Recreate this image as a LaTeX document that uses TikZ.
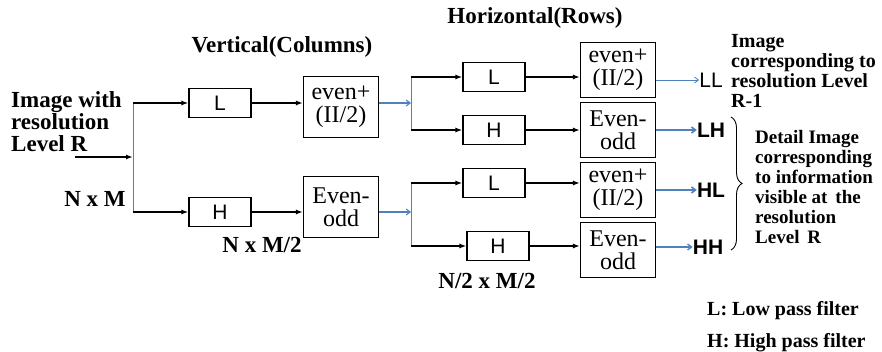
\documentclass[tikz,border=0pt]{standalone}
\usepackage{fontspec}
\setmainfont{Liberation Serif}
\setsansfont{Liberation Sans}
\usetikzlibrary{arrows.meta,decorations.pathreplacing}
\definecolor{linkblue}{RGB}{79,129,189}

\begin{document}
\begin{tikzpicture}[
        x=1pt, y=-1pt,
        lbl/.style={font=\fontsize{23}{22}\selectfont\bfseries, align=left, inner sep=0pt},
        note/.style={font=\fontsize{20}{20}\selectfont\bfseries, align=left, inner sep=0pt, anchor=west},
        filt/.style={rectangle, draw, line width=1.1pt, minimum width=62pt, minimum height=29pt, inner sep=0pt, font=\fontsize{21}{21}\selectfont\sffamily},
        proc/.style={rectangle, draw, line width=1.1pt, minimum width=75pt, minimum height=55pt, inner sep=0pt, align=center, font=\fontsize{24}{23}\selectfont},
        band/.style={font=\fontsize{21}{21}\selectfont\sffamily, inner sep=0pt},
        bandb/.style={font=\fontsize{21}{21}\selectfont\sffamily\bfseries, inner sep=0pt},
        arrow/.style={-{Latex[length=7pt,width=5pt]}, line width=1.6pt},
        bluearrow/.style={-{Straight Barb[length=4pt,width=6pt]}, draw=linkblue, line width=1.1pt},
        bus/.style={draw=linkblue, line width=1pt}
    ]
        \useasboundingbox (0,0) rectangle (882,352);

        % Input
        \node[lbl, anchor=west] (input) at (11,122) {Image with\\resolution\\Level R};
        \node[lbl] (size0) at (95,199) {N x M};
        \coordinate (inStart) at (75,157);
        \coordinate (vBusTop) at (133,103);
        \coordinate (vBusMid) at (133,157);
        \coordinate (vBusBot) at (133,212);

        % Vertical(Columns) stage
        \node[lbl] (vtitle) at (282,47) {Vertical(Columns)};
        \node[filt] (vL) at (220,103) {L};
        \node[filt] (vH) at (220,212) {H};
        \node[proc, minimum height=61pt] (vE) at (341,107) {even+\\(II/2)};
        \node[proc, minimum height=61pt] (vEO) at (341,207) {Even-\\odd};
        \node[lbl] (size1) at (262,245) {N x M/2};

        \draw[bus] (vBusTop) -- (vBusBot);
        \draw[arrow] (inStart) -- (vBusMid);
        \draw[arrow] (vBusTop) -- (vL);
        \draw[arrow] (vBusBot) -- (vH);
        \draw[arrow] (vL.east) -- (vL.east -| vE.west);
        \draw[arrow] (vH.east) -- (vH.east -| vEO.west);

        % Horizontal(Rows) stage
        \node[lbl] (htitle) at (535,18) {Horizontal(Rows)};
        \coordinate (hBusTopA) at (411,77);
        \coordinate (hBusTopB) at (411,130);
        \coordinate (hBusBotA) at (411,183);
        \coordinate (hBusBotB) at (411,246);
        \node[filt] (hLL) at (494,77) {L};
        \node[filt] (hLH) at (494,130) {H};
        \node[filt] (hHL) at (494,183) {L};
        \node[filt] (hHH) at (498,246) {H};
        \node[proc] (oLL) at (618,70) {even+\\(II/2)};
        \node[proc] (oLH) at (618,130) {Even-\\odd};
        \node[proc] (oHL) at (618,190) {even+\\(II/2)};
        \node[proc] (oHH) at (618,250) {Even-\\odd};
        \node[lbl] (size2) at (487,281) {N/2 x M/2};

        \draw[bus] (hBusTopA) -- (hBusTopB);
        \draw[bus] (hBusBotA) -- (hBusBotB);
        \draw[bluearrow] (vE.east |- vL) -- (vE.east |- vL -| hBusTopA);
        \draw[bluearrow] (vEO.east |- vH) -- (vEO.east |- vH -| hBusBotA);
        \draw[arrow] (hBusTopA) -- (hLL);
        \draw[arrow] (hBusTopB) -- (hLH);
        \draw[arrow] (hBusBotA) -- (hHL);
        \draw[arrow] (hBusBotB) -- (hHH);
        \draw[arrow] (hLL.east) -- (hLL.east -| oLL.west);
        \draw[arrow] (hLH.east) -- (hLH.east -| oLH.west);
        \draw[arrow] (hHL.east) -- (hHL.east -| oHL.west);
        \draw[arrow] (hHH.east) -- (hHH.east -| oHH.west);

        % Sub-bands
        \node[band] (LL) at (711,80) {LL};
        \node[bandb] (LH) at (711,130) {LH};
        \node[bandb] (HL) at (711,190) {HL};
        \node[bandb] (HH) at (708,247) {HH};
        \draw[bluearrow, line width=0.8pt] (oLL.east |- LL) -- (LL.west);
        \draw[bluearrow, line width=1.6pt] (oLH.east) -- (LH.west);
        \draw[bluearrow, line width=1.6pt] (oHL.east) -- (HL.west);
        \draw[bluearrow, line width=1.3pt] (oHH.east |- HH) -- (HH.west);

        \coordinate (brTop) at (731,117);
        \coordinate (brBot) at (731,250);
        \draw[line width=0.9pt, decorate, decoration={brace, amplitude=11pt}] (brTop) -- (brBot);

        % Annotations
        \node[note] (lowres) at (731,71) {Image\\corresponding to\\resolution Level\\R-1};
        \node[note, font=\fontsize{19}{20}\selectfont\bfseries] (detail) at (755,187) {Detail Image\\corresponding\\to information\\visible at\, the\\resolution\\Level\, R};
        \node[note] (keyL) at (707,311) {L: Low pass filter};
        \node[note] (keyH) at (707,343) {H: High pass filter};

    \end{tikzpicture}
\end{document}
